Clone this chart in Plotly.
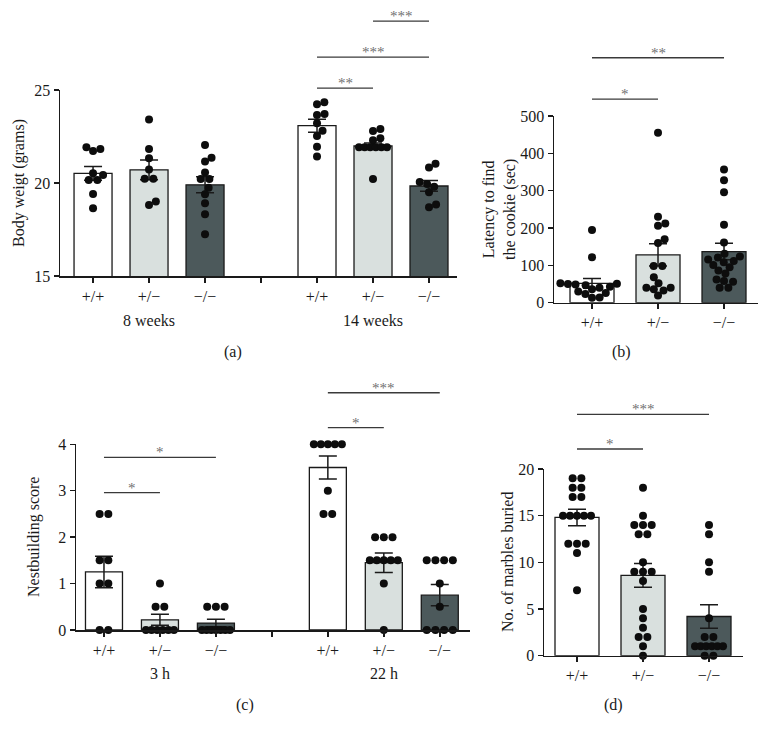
import math
import plotly.graph_objects as go

W, H = 769, 738
FONT = "Liberation Serif, Times New Roman, serif"
INK = "#1a1a1a"

genotypes = ["+/+", "+/−", "−/−"]
bar_colors = ["#ffffff", "#d9e0de", "#4c595b"]

# ---------------- (a) body weight ----------------
weight_ages = ["8 weeks", "14 weeks"]
weight_8w = [
    [21.83, 21.72, 21.92, 20.43, 20.52, 20.16, 20.16, 19.41, 18.64],
    [23.42, 21.83, 21.33, 20.73, 20.23, 20.23, 18.82, 19.0],
    [22.04, 21.36, 21.15, 20.57, 20.22, 20.22, 19.75, 19.39, 18.91, 18.32, 17.24],
]
weight_14w = [
    [24.34, 24.23, 23.66, 23.71, 23.21, 22.81, 22.53, 21.95, 21.42],
    [22.9, 22.8, 22.4, 22.3, 21.92, 21.92, 21.92, 21.92, 21.92, 21.92, 20.22],
    [21.04, 20.83, 20.05, 19.95, 19.8, 19.5, 18.85, 18.7],
]
weight_mean = [[20.52, 20.71, 19.9], [23.08, 21.99, 19.84]]
weight_sem = [[0.37, 0.53, 0.43], [0.35, 0.16, 0.29]]
# (group, from genotype, to genotype, label, height in grams)
weight_sig = [(1, 0, 1, "**", 25.1), (1, 0, 2, "***", 26.77), (1, 1, 2, "***", 28.7)]

# ---------------- (b) cookie latency ----------------
latency = [
    [195, 122, 52, 51, 50, 49, 47, 43, 40, 36, 30, 26, 23, 14, 13],
    [455, 230, 212, 206, 170, 160, 98, 98, 68, 52, 40, 40, 36, 33, 19],
    [357, 328, 296, 209, 161, 131, 124, 121, 116, 112, 108, 101, 95, 86, 78, 62, 58, 56, 40, 40],
]
latency_mean = [52, 128, 137]
latency_sem = [13, 30, 22]
latency_sig = [(0, 0, 1, "*", 545), (0, 0, 2, "**", 656)]

# ---------------- (c) nest building ----------------
nest_times = ["3 h", "22 h"]
nest_3h = [
    [2.5, 2.5, 1.5, 1.5, 1, 1, 0, 0],
    [1, 0.5, 0.5, 0, 0, 0, 0, 0, 0],
    [0.5, 0.5, 0.5, 0, 0, 0, 0, 0, 0, 0],
]
nest_22h = [
    [4, 4, 4, 4, 4, 3, 2.5, 2.5],
    [2, 2, 2, 1.5, 1.5, 1.5, 1.5, 1.5, 1, 0],
    [1.5, 1.5, 1.5, 1.5, 1, 0.5, 0, 0, 0, 0],
]
nest_mean = [[1.25, 0.22, 0.15], [3.5, 1.45, 0.75]]
nest_sem = [[0.34, 0.12, 0.08], [0.25, 0.21, 0.23]]
nest_sig = [(0, 0, 1, "*", 2.96), (0, 0, 2, "*", 3.72), (1, 0, 1, "*", 4.36), (1, 0, 2, "***", 5.11)]

# ---------------- (d) marble burying ----------------
marbles = [
    [19, 19, 18, 18, 17, 17, 15, 15, 15, 15, 15, 12, 12, 12, 11, 7],
    [18, 15, 14, 14, 14, 13, 13, 10, 9, 9, 9, 8, 5, 4, 3, 2, 2, 1, 0],
    [14, 13, 10, 9, 4, 2, 2, 1, 1, 1, 1, 1, 1, 0, 0],
]
marbles_mean = [14.81, 8.6, 4.2]
marbles_sem = [0.88, 1.27, 1.25]
marbles_sig = [(0, 0, 1, "*", 22.14), (0, 0, 2, "***", 25.86)]

# ---------------- layout of panels (pixels) ----------------
panels = {
    1: dict(rect=(60, 90, 457, 276), xr=(-0.59, 6.5), yr=(15, 25), yt=[15, 20, 25], bar_px=38,
            title="Body weigt (grams)", title_xy=(19, 183), letter="(a)", letter_xy=(233, 352)),
    2: dict(rect=(554, 116, 758, 302.7), xr=(-0.576, 2.515), yr=(0, 500), yt=[0, 100, 200, 300, 400, 500],
            bar_px=44, title="Latency to find<br>the cookie (sec)", title_xy=(499, 210),
            letter="(b)", letter_xy=(621, 352)),
    3: dict(rect=(76, 444.3, 470, 630), xr=(-0.5, 6.54), yr=(0, 4), yt=[0, 1, 2, 3, 4], bar_px=37,
            title="Nestbuilding score", title_xy=(34, 537), letter="(c)", letter_xy=(245, 705)),
    4: dict(rect=(544, 469, 743, 655.7), xr=(-0.5, 2.515), yr=(0, 20), yt=[0, 5, 10, 15, 20], bar_px=44,
            title="No. of marbles buried", title_xy=(507, 562), letter="(d)", letter_xy=(613, 705)),
}
GROUP_STRIDE = 4


def swarm(values, yppu, dc=7.6, srow=8.7, span_max=28.0):
    placed = []
    offs = [0.0] * len(values)

    def ok(x, y):
        return all((x - px) ** 2 + (y - py) ** 2 >= dc * dc - 1e-6 for px, py in placed)

    for u in sorted(set(values)):
        idx = [i for i, v in enumerate(values) if v == u]
        y = u * yppu
        k = len(idx)
        if k > 1:
            s = min(srow, span_max / (k - 1))
            xs = [(j - (k - 1) / 2) * s for j in range(k)]
            if all(ok(x, y) for x in xs):
                for i, x in zip(idx, xs):
                    offs[i] = x
                    placed.append((x, y))
                continue
        for i in idx:
            cands = [0.0]
            bal = 0.0
            for px, py in placed:
                dy = abs(y - py)
                if dy < dc:
                    dx = math.sqrt(dc * dc - dy * dy)
                    cands += [px + dx, px - dx]
                    bal += px
            valid = [c for c in cands if ok(c, y)]
            best = min(valid, key=lambda c: (round(abs(c), 2), (c > 0) == (bal > 0)))
            offs[i] = best
            placed.append((best, y))
    return offs


fig = go.Figure()
shapes, annotations = [], []


def ax_names(n):
    s = "" if n == 1 else str(n)
    return "x" + s, "y" + s, "xaxis" + s, "yaxis" + s


def ypaper(n, v):
    p = panels[n]
    l, t, r, b = p["rect"]
    y0, y1 = 1 - b / H, 1 - t / H
    r0, r1 = p["yr"]
    return y0 + (v - r0) / (r1 - r0) * (y1 - y0)


def draw_panel(n, groups_points, groups_mean, groups_sem, sig, group_labels=None, group_label_y=None):
    p = panels[n]
    l, t, r, b = p["rect"]
    xppu = (r - l) / (p["xr"][1] - p["xr"][0])
    yppu = (b - t) / (p["yr"][1] - p["yr"][0])
    xa, ya, xkey, ykey = ax_names(n)
    tickvals, ticktext = [], []
    for g, (pts3, m3, s3) in enumerate(zip(groups_points, groups_mean, groups_sem)):
        pos = [g * GROUP_STRIDE + i for i in range(3)]
        fig.add_trace(go.Bar(
            x=pos, y=m3, width=p["bar_px"] / xppu, xaxis=xa, yaxis=ya,
            marker=dict(color=bar_colors, line=dict(color=INK, width=1.3)),
            error_y=dict(type="data", array=s3, visible=True, color=INK, thickness=1.5, width=9),
            showlegend=False, hoverinfo="skip"))
        for i, pts in enumerate(pts3):
            offs = swarm(pts, yppu)
            fig.add_trace(go.Scatter(
                x=[pos[i] + o / xppu for o in offs], y=pts, mode="markers", xaxis=xa, yaxis=ya,
                marker=dict(size=8, color="#0d0d0d", line=dict(width=0)),
                cliponaxis=False, showlegend=False, hoverinfo="skip"))
        tickvals += pos
        ticktext += genotypes
        if g < len(groups_points) - 1:
            tickvals.append(g * GROUP_STRIDE + 3)
            ticktext.append("")
        if group_labels:
            annotations.append(dict(text=group_labels[g], x=g * GROUP_STRIDE + 1, xref=xa,
                                    y=1 - group_label_y / H, yref="paper", showarrow=False,
                                    xanchor="center", yanchor="middle",
                                    font=dict(family=FONT, size=16, color=INK)))
    for g, i, j, lab, h in sig:
        x0, x1 = g * GROUP_STRIDE + i, g * GROUP_STRIDE + j
        yp = ypaper(n, h)
        shapes.append(dict(type="line", xref=xa, yref="paper", x0=x0, x1=x1, y0=yp, y1=yp,
                           line=dict(color="#3a3a3a", width=1.3)))
        annotations.append(dict(text=lab, x=(x0 + x1) / 2, xref=xa, y=yp, yref="paper",
                                xanchor="center", yanchor="bottom", yshift=-5, showarrow=False,
                                font=dict(family=FONT, size=15, color="#707070")))
    axis_common = dict(showline=True, linecolor=INK, linewidth=1.5, ticks="outside", ticklen=5,
                       tickwidth=1.5, tickcolor=INK, showgrid=False, zeroline=False, fixedrange=True,
                       automargin=False, tickfont=dict(family=FONT, size=16, color=INK))
    fig.update_layout({
        xkey: dict(domain=[l / W, r / W], range=list(p["xr"]), anchor=ya,
                   tickvals=tickvals, ticktext=ticktext, **axis_common),
        ykey: dict(domain=[1 - b / H, 1 - t / H], range=list(p["yr"]), anchor=xa,
                   tickvals=p["yt"], **axis_common),
    })
    tx, ty = p["title_xy"]
    annotations.append(dict(text=p["title"], x=tx / W, y=1 - ty / H, xref="paper", yref="paper",
                            xanchor="center", yanchor="middle", textangle=-90, showarrow=False,
                            font=dict(family=FONT, size=16, color=INK)))
    lx, ly = p["letter_xy"]
    annotations.append(dict(text=p["letter"], x=lx / W, y=1 - ly / H, xref="paper", yref="paper",
                            xanchor="center", yanchor="middle", showarrow=False,
                            font=dict(family=FONT, size=16, color=INK)))


draw_panel(1, [weight_8w, weight_14w], weight_mean, weight_sem, weight_sig, weight_ages, 320)
draw_panel(2, [latency], [latency_mean], [latency_sem], latency_sig)
draw_panel(3, [nest_3h, nest_22h], nest_mean, nest_sem, nest_sig, nest_times, 673)
draw_panel(4, [marbles], [marbles_mean], [marbles_sem], marbles_sig)

fig.update_layout(template="none", width=W, height=H,
                  margin=dict(l=0, r=0, t=0, b=0, autoexpand=False),
                  paper_bgcolor="white", plot_bgcolor="white", barmode="overlay",
                  shapes=shapes, annotations=annotations, showlegend=False)
fig.write_html("out.html", config={"displayModeBar": False, "staticPlot": True},
               post_script="document.body.style.margin='0';document.body.style.overflow='hidden';")
